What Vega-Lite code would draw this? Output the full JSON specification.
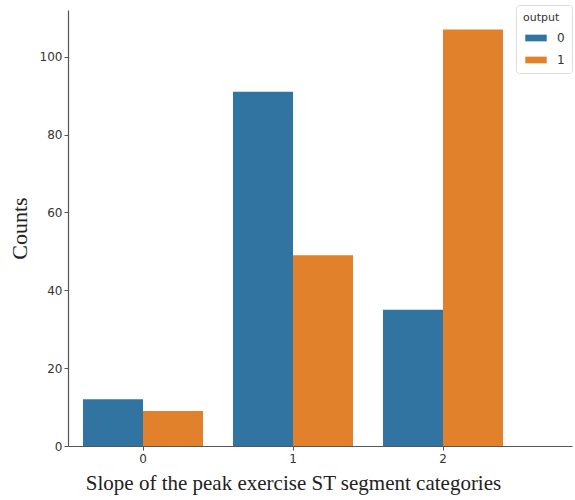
{
  "$schema": "https://vega.github.io/schema/vega-lite/v6.json",
  "width": 504,
  "height": 436,
  "autosize": "none",
  "padding": {"left": 68, "top": 10, "right": 3, "bottom": 54},
  "background": "white",
  "config": {"view": {"stroke": null}},
  "data": {"values": [
    {"slope": "0", "output": "0", "count": 12},
    {"slope": "0", "output": "1", "count": 9},
    {"slope": "1", "output": "0", "count": 91},
    {"slope": "1", "output": "1", "count": 49},
    {"slope": "2", "output": "0", "count": 35},
    {"slope": "2", "output": "1", "count": 107}
  ]},
  "mark": {"type": "bar"},
  "encoding": {
    "x": {
      "field": "slope", "type": "nominal",
      "scale": {"domain": ["0", "1", "2"], "paddingInner": 0, "paddingOuter": 0.18, "align": 0},
      "axis": {
        "title": "Slope of the peak exercise ST segment categories",
        "titleFont": "Liberation Serif", "titleFontSize": 21, "titleFontWeight": "normal",
        "titleColor": "#222", "titleX": 225, "titlePadding": 8,
        "labelAngle": 0, "labelFont": "DejaVu Sans", "labelFontSize": 12, "labelColor": "#333",
        "labelPadding": 3,
        "domainColor": "#555", "domainWidth": 1.2, "tickColor": "#555", "tickSize": 4
      }
    },
    "xOffset": {
      "field": "output", "type": "nominal",
      "scale": {"paddingInner": 0, "paddingOuter": 0.25}
    },
    "y": {
      "field": "count", "type": "quantitative",
      "scale": {"domain": [0, 112], "nice": false},
      "axis": {
        "title": "Counts", "values": [0, 20, 40, 60, 80, 100],
        "titleFont": "Liberation Serif", "titleFontSize": 22, "titleFontWeight": "normal",
        "titleColor": "#222", "titlePadding": 8,
        "labelFont": "DejaVu Sans", "labelFontSize": 12, "labelColor": "#333",
        "grid": false, "domainColor": "#555", "domainWidth": 1.2, "tickColor": "#555", "tickSize": 4
      }
    },
    "color": {
      "field": "output", "type": "nominal",
      "scale": {"domain": ["0", "1"], "range": ["#3274a1", "#e1812c"]},
      "legend": {
        "title": "output", "orient": "none", "legendX": 448, "legendY": -5,
        "titleFont": "DejaVu Sans", "titleFontSize": 11, "titleFontWeight": "normal", "titleColor": "#333",
        "titlePadding": 8,
        "labelFont": "DejaVu Sans", "labelFontSize": 12, "labelColor": "#333", "labelOffset": 14,
        "symbolType": "M-1.6,-0.5H1.6V0.5H-1.6Z", "symbolSize": 180, "symbolStrokeWidth": 0,
        "symbolOffset": 6,
        "strokeColor": "#ddd", "cornerRadius": 3, "padding": 7, "rowPadding": 9
      }
    }
  }
}
